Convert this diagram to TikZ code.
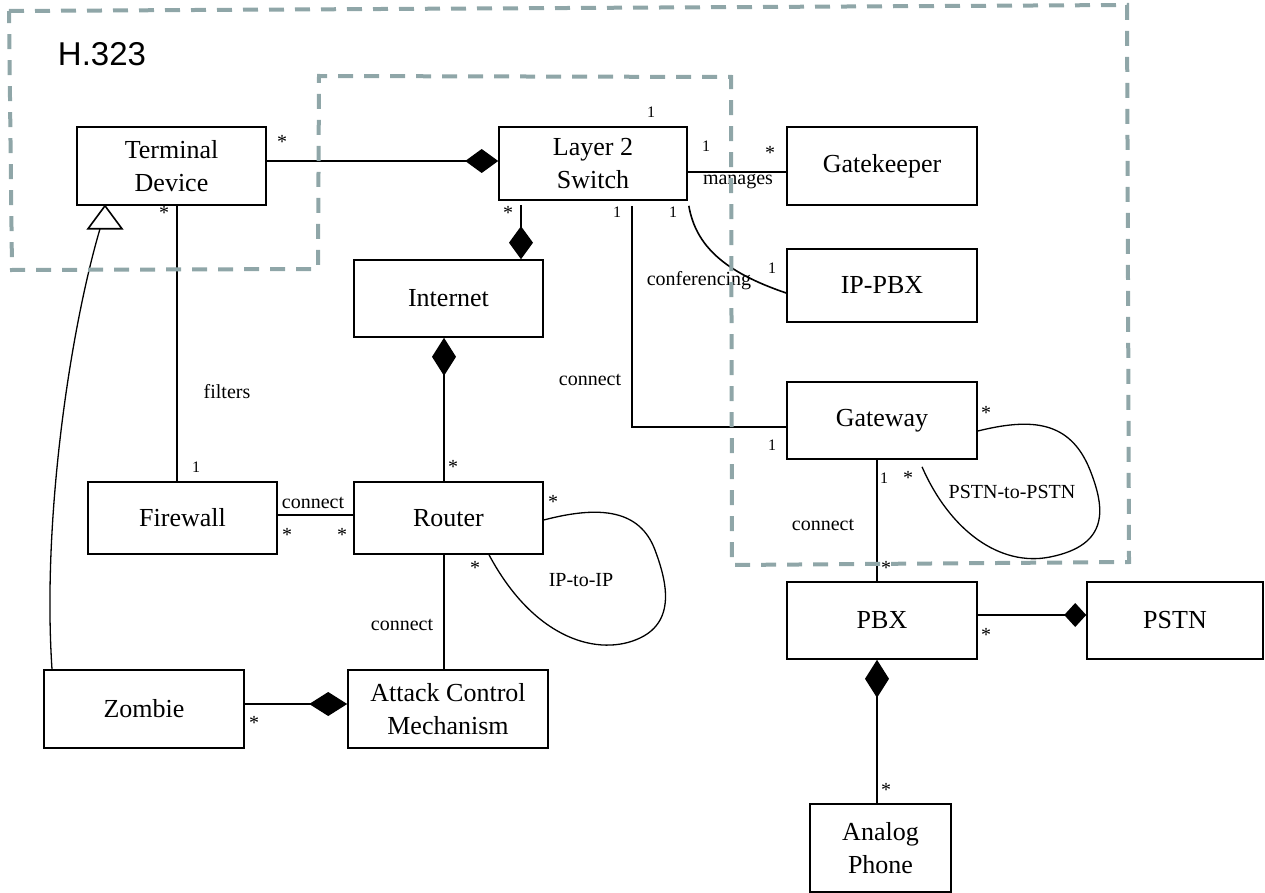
\documentclass[tikz,border=0pt]{standalone}
\usepackage{fontspec}
\setmainfont{Liberation Serif}
\newfontfamily\regionfont{Liberation Sans}
\usetikzlibrary{arrows.meta}
\definecolor{RegionGrey}{RGB}{143,166,168}

\begin{document}
\begin{tikzpicture}[
  x=1pt, y=-1pt,
  box/.style={
    rectangle,
    draw,
    line width=1.6pt,
    fill=white,
    align=center,
    inner sep=0pt,
    font=\fontsize{26}{33}\selectfont
  },
  assoc/.style={line width=1.6pt},
  comp/.style={assoc, -{Diamond[length=#1, width=24pt]}},
  comp/.default=33pt,
  selfloop/.style={line width=1.3pt},
  mult/.style={inner sep=0pt, font=\fontsize{20}{20}\selectfont},
  multone/.style={inner sep=0pt, font=\fontsize{16}{16}\selectfont},
  role/.style={inner sep=0pt, font=\fontsize{20}{20}\selectfont},
  region/.style={RegionGrey, line width=4pt, dash pattern=on 15pt off 11pt, line join=miter}
]

  \useasboundingbox (0,0) rectangle (1265,893);

  \node[box, minimum width=189pt, minimum height=78pt] (terminal) at (171.5,166) {Terminal\\Device};
  \node[box, minimum width=188pt, minimum height=73pt] (switch) at (593,163.5) {Layer 2\\Switch};
  \node[box, minimum width=190pt, minimum height=78pt] (gatekeeper) at (882,166) {Gatekeeper};
  \node[box, minimum width=190pt, minimum height=73pt] (ippbx) at (882,285.5) {IP-PBX};
  \node[box, minimum width=189pt, minimum height=77pt] (internet) at (448.5,298.5) {Internet};
  \node[box, minimum width=190pt, minimum height=77pt] (gateway) at (882,420.5) {Gateway};
  \node[box, minimum width=189pt, minimum height=72pt] (firewall) at (182.5,518) {Firewall};
  \node[box, minimum width=189pt, minimum height=72pt] (router) at (448.5,518) {Router};
  \node[box, minimum width=200pt, minimum height=78pt] (attack) at (448,709) {Attack Control\\Mechanism};
  \node[box, minimum width=200pt, minimum height=78pt] (zombie) at (144,709) {Zombie};
  \node[box, minimum width=190pt, minimum height=77pt] (pbx) at (882,620.5) {PBX};
  \node[box, minimum width=176pt, minimum height=77pt] (pstn) at (1175,620.5) {PSTN};
  \node[box, minimum width=141pt, minimum height=88pt] (analog) at (880.5,848) {Analog\\Phone};

  \coordinate (genTip)  at ([xshift=-66.5pt]terminal.south);
  \coordinate (genBase) at ([xshift=-71.5pt, yshift=-23pt]terminal.south);

  \draw[comp] ([yshift=5pt]terminal.east) -- ([yshift=2.5pt]switch.west);
  \draw[comp] ([xshift=-72pt, yshift=-4pt]switch.south) -- ([xshift=72.5pt]internet.north);
  \draw[comp=38pt] ([xshift=-4.5pt]router.north) -- ([xshift=-4.5pt]internet.south);
  \draw[assoc] ([xshift=-4.5pt]router.south) -- ([xshift=-4pt]attack.north);
  \draw[comp=38pt] ([yshift=5pt]zombie.east) -- ([yshift=5pt]attack.west);
  \draw[assoc] ([yshift=3pt]firewall.east) -- ([yshift=3pt]router.west);
  \draw[assoc] ([xshift=5.5pt]terminal.south) -- ([xshift=-5.5pt]firewall.north);
  \draw[assoc] ([yshift=-8.5pt]switch.east) -- ([yshift=-6pt]gatekeeper.west);
  \draw[assoc] ([xshift=1pt, yshift=-5pt]switch.south east)
    .. controls +(7,40) and +(-62,-21) .. ([yshift=-7.5pt]ippbx.west);
  \draw[assoc] ([xshift=39pt, yshift=-5pt]switch.south) |- ([yshift=-6.5pt]gateway.west);
  \draw[assoc] ([xshift=-5pt]gateway.south) -- ([xshift=-5pt]pbx.north);
  \draw[comp=22pt] ([yshift=5.5pt]pbx.east) -- ([yshift=5.5pt]pstn.west);
  \draw[comp=38pt] ([xshift=-3.5pt]analog.north) -- ([xshift=-5pt]pbx.south);

  \draw[selfloop] ([yshift=-2pt]router.east)
    .. controls +(57,-15) and +(-15,-40) .. (655,550)
    .. controls +(10,27) and +(38,-18) .. (640,638)
    .. controls +(-40,19) and +(46,86) .. ([xshift=40.5pt]router.south);
  \draw[selfloop] ([yshift=-10.5pt]gateway.east)
    .. controls +(53,-13) and +(-20,-50) .. (1090,470)
    .. controls +(15,38) and +(60,-12) .. (1050,557)
    .. controls +(-50,10) and +(28,64) .. ([xshift=40pt, yshift=-7pt]gateway.south);

  \draw[selfloop] ([xshift=-92pt]zombie.north) .. controls +(-10,-150) and +(-30,102) .. (genBase);
  \draw[line width=1.6pt, fill=white] (genTip) -- ++(-17,23) -- ++(34,0) -- cycle;

  \node[mult] (tdStarE) at (282,142) {*};
  \node[mult] (tdStarS) at (164,213) {*};
  \node[multone] (swOneN) at (651,112) {1};
  \node[mult] (swStarS) at (508,213) {*};
  \node[multone] (swOneGw) at (617,212) {1};
  \node[multone] (swOneIp) at (673,212) {1};
  \node[multone] (swOneGk) at (706,146) {1};
  \node[mult] (gkStar) at (770,153) {*};
  \node[role] (manages) at (738,182) {manages};
  \node[multone] (ipOne) at (772,268) {1};
  \node[role] (conferencing) at (699,281) {conferencing};
  \node[role] (connectGw) at (590,380) {connect};
  \node[multone] (gwOneW) at (772,445) {1};
  \node[role] (filters) at (227,392) {filters};
  \node[multone] (fwOne) at (196,467) {1};
  \node[role] (connectFw) at (313,503) {connect};
  \node[mult] (fwStar) at (287,535) {*};
  \node[mult] (rtStarW) at (342,535) {*};
  \node[mult] (rtStarN) at (453,467) {*};
  \node[mult] (rtStarE) at (553,502) {*};
  \node[mult] (rtStarS) at (475,568) {*};
  \node[role] (ipToIp) at (581,580) {IP-to-IP};
  \node[role] (connectAc) at (402,625) {connect};
  \node[mult] (zbStar) at (254,723) {*};
  \node[multone] (gwOneS) at (884,478) {1};
  \node[mult] (gwStarS) at (908,478) {*};
  \node[mult] (gwStarE) at (986,413) {*};
  \node[role] (pstnToPstn) at (1012,492) {PSTN-to-PSTN};
  \node[role] (connectPbx) at (823,525) {connect};
  \node[mult] (pbxStarN) at (886,568) {*};
  \node[mult] (pbxStarE) at (986,635) {*};
  \node[mult] (phStar) at (886,790) {*};

  \draw[region] (9,11) -- (1127,5) -- (1129,562) -- (732,565) -- (731,77)
    -- (319,76) -- (318,269) -- (12,270) -- cycle;
  \node[inner sep=0pt, font=\regionfont\fontsize{33}{33}\selectfont] (regionName) at (102,54) {H.323};

\end{tikzpicture}
\end{document}
